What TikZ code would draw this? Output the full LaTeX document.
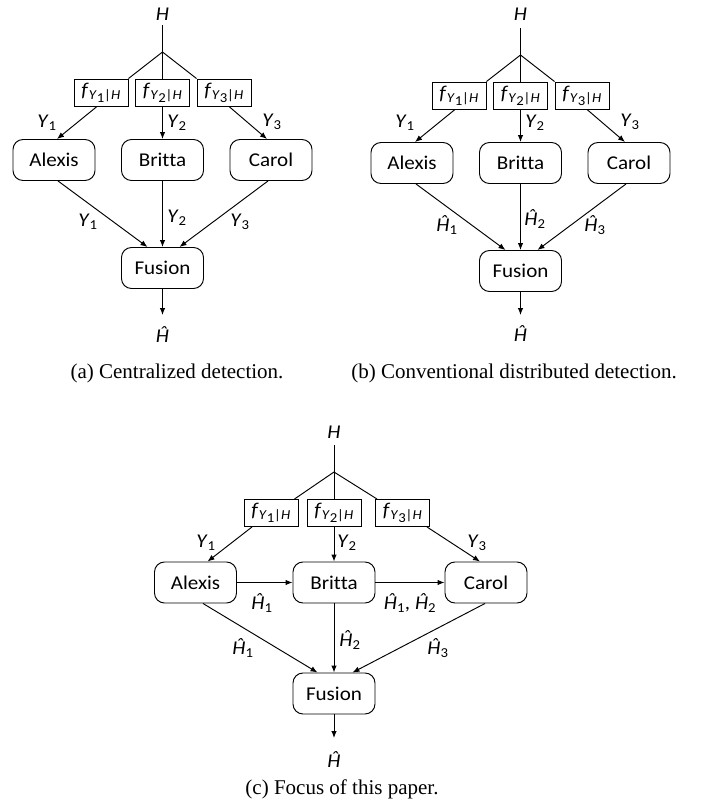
\documentclass[tikz,border=0pt]{standalone}
\usepackage{fontspec}
\setmainfont{Carlito}[FakeStretch=1.08,Ligatures=NoCommon]
\newfontfamily\capfont{Liberation Serif}
\usetikzlibrary{arrows.meta}
\newcommand\lbl{\fontsize{19.5}{19.5}\selectfont}
\newcommand\hs[1]{\textsubscript{#1}}
\newcommand\Yl[1]{\textit{Y}\hs{#1}}
\newcommand\Hh[1]{\textit{Ĥ}\hs{#1}}
\newcommand\fl[1]{\textit{f}\hs{\textit{Y}\raisebox{-0.2em}{#1}|\textit{H}}}
\tikzset{
  agent/.style={draw, rounded corners=10pt, minimum width=82pt, minimum height=41pt, inner sep=0pt, font=\lbl},
  pdf/.style={draw, minimum width=54pt, minimum height=27pt, inner sep=0pt, font=\lbl},
  lab/.style={inner sep=0pt, font=\lbl},
  arr/.style={-{Latex[length=7pt,width=5.5pt]}},
  capt/.style={inner sep=0pt, font=\capfont\fontsize{21}{23}\selectfont}
}
\begin{document}
\begin{tikzpicture}[x=1pt,y=-1pt,line width=0.95pt]
\useasboundingbox (0,0) rectangle (706,806);

% ---------- (a) ----------
\node[lab] (Ha) at (162.5,14) {\textit{H}};
\coordinate (Ta) at (162.5,25);
\coordinate (Ja) at (162.5,52);
\node[pdf] (fa1) at (101,92.5) {\fl{1}};
\node[pdf] (fa2) at (162.5,92.5) {\fl{2}};
\node[pdf] (fa3) at (224,92.5) {\fl{3}};
\draw (Ta) -- (fa2.north);
\draw (Ja) -- (fa1.north east);
\draw (Ja) -- (fa3.north west);
\node[agent] (Aa) at (54,160) {Alexis};
\node[agent] (Ba) at (162.5,160) {Britta};
\node[agent] (Ca) at (271,160) {Carol};
\node[agent] (Fa) at (162.5,268) {Fusion};
\draw[arr] ([xshift=-4pt]fa1.south) -- ([xshift=3pt]Aa.north);
\draw[arr] (fa2.south) -- (Ba.north);
\draw[arr] ([xshift=5pt]fa3.south) -- ([xshift=-4pt]Ca.north);
\draw[arr] ([xshift=4pt]Aa.south) -- ([xshift=-15pt]Fa.north);
\draw[arr] (Ba.south) -- (Fa.north);
\draw[arr] ([xshift=-3pt]Ca.south) -- ([xshift=17pt]Fa.north);
\coordinate (Ea) at (162.5,315);
\draw[arr] (Fa.south) -- (Ea);
\node[lab] (Oa) at (162.5,335) {\textit{Ĥ}};
\node[lab] at (47,123) {\Yl{1}};
\node[lab] at (177,123) {\Yl{2}};
\node[lab] at (272,122) {\Yl{3}};
\node[lab] at (88,222) {\Yl{1}};
\node[lab] at (177,218) {\Yl{2}};
\node[lab] at (240,222) {\Yl{3}};
\node[capt] at (177,373) {(a) Centralized detection.};

% ---------- (b) ----------
\begin{scope}[shift={(358,3)}]
\node[lab] (Hb) at (162.5,11) {\textit{H}};
\coordinate (Tb) at (162.5,25);
\coordinate (Jb) at (162.5,52);
\node[pdf] (fb1) at (101,92.5) {\fl{1}};
\node[pdf] (fb2) at (162.5,92.5) {\fl{2}};
\node[pdf] (fb3) at (224,92.5) {\fl{3}};
\draw (Tb) -- (fb2.north);
\draw (Jb) -- (fb1.north east);
\draw (Jb) -- (fb3.north west);
\node[agent] (Ab) at (54,160) {Alexis};
\node[agent] (Bb) at (162.5,160) {Britta};
\node[agent] (Cb) at (271,160) {Carol};
\node[agent] (Fb) at (162.5,268) {Fusion};
\draw[arr] ([xshift=-4pt]fb1.south) -- ([xshift=3pt]Ab.north);
\draw[arr] (fb2.south) -- (Bb.north);
\draw[arr] ([xshift=5pt]fb3.south) -- ([xshift=-4pt]Cb.north);
\draw[arr] ([xshift=4pt]Ab.south) -- ([xshift=-15pt]Fb.north);
\draw[arr] (Bb.south) -- (Fb.north);
\draw[arr] ([xshift=-3pt]Cb.south) -- ([xshift=17pt]Fb.north);
\coordinate (Eb) at (162.5,312);
\draw[arr] (Fb.south) -- (Eb);
\node[lab] (Ob) at (162.5,331) {\textit{Ĥ}};
\node[lab] at (47,120) {\Yl{1}};
\node[lab] at (177,120) {\Yl{2}};
\node[lab] at (272,119) {\Yl{3}};
\node[lab] at (89,222) {\Hh{1}};
\node[lab] at (177,216) {\Hh{2}};
\node[lab] at (237,222) {\Hh{3}};
\end{scope}
\node[capt] at (514,373) {(b) Conventional distributed detection.};

% ---------- (c) ----------
\node[lab] (Hc) at (334,432) {\textit{H}};
\coordinate (Tc) at (334,445);
\coordinate (Jc) at (334,472);
\node[pdf] (fc1) at (271,513) {\fl{1}};
\node[pdf] (fc2) at (334,513) {\fl{2}};
\node[pdf] (fc3) at (402.5,513) {\fl{3}};
\draw (Tc) -- (fc2.north);
\draw (Jc) -- ([xshift=-4pt]fc1.north east);
\draw (Jc) -- ([xshift=2pt]fc3.north west);
\node[agent] (Ac) at (195.5,582.5) {Alexis};
\node[agent] (Bc) at (334,582.5) {Britta};
\node[agent] (Cc) at (486,582.5) {Carol};
\node[agent] (Fc) at (334,693.5) {Fusion};
\draw[arr] ([xshift=-19pt]fc1.south) -- ([xshift=12pt]Ac.north);
\draw[arr] (fc2.south) -- (Bc.north);
\draw[arr] ([xshift=24.5pt]fc3.south) -- ([xshift=-6pt]Cc.north);
\draw[arr] (Ac.east) -- (Bc.west);
\draw[arr] (Bc.east) -- (Cc.west);
\draw[arr] ([xshift=7.5pt]Ac.south) -- ([xshift=-16.5pt]Fc.north);
\draw[arr] (Bc.south) -- (Fc.north);
\draw[arr] ([xshift=-1pt]Cc.south) -- ([xshift=18.5pt]Fc.north);
\coordinate (Ec) at (334,738);
\draw[arr] (Fc.south) -- (Ec);
\node[lab] (Oc) at (334,760) {\textit{Ĥ}};
\node[lab] at (206,543) {\Yl{1}};
\node[lab] at (347,543) {\Yl{2}};
\node[lab] at (477,543) {\Yl{3}};
\node[lab] at (262,603) {\Hh{1}};
\node[lab] at (410,603) {\Hh{1}, \Hh{2}};
\node[lab] at (243,648) {\Hh{1}};
\node[lab] at (350,640) {\Hh{2}};
\node[lab] at (438,648) {\Hh{3}};
\node[capt] at (342,789) {(c) Focus of this paper.};
\end{tikzpicture}
\end{document}
